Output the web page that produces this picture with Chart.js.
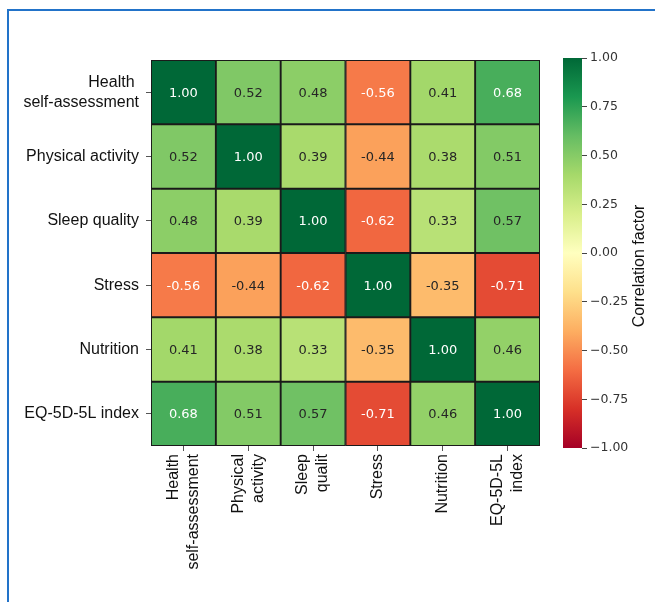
<!DOCTYPE html>
<html>
<head>
<meta charset="utf-8">
<script src="https://cdn.jsdelivr.net/npm/chart.js@4"></script>
<style>
  html, body { margin: 0; padding: 0; background: #fff; }
  #page { position: relative; width: 655px; height: 602px; overflow: hidden; }
  #frame { position: absolute; left: 7px; top: 9px; width: 660px; height: 610px;
           border-top: 2px solid #2273c9; border-left: 2px solid #2273c9; }
  #heat { position: absolute; left: 0; top: 0; }
  #cbar { position: absolute; left: 540px; top: 0; }
</style>
</head>
<body>
<div id="page">
  <div id="frame"></div>
  <canvas id="heat" width="560" height="602"></canvas>
  <canvas id="cbar" width="115" height="602"></canvas>
</div>
<script>
// rows top to bottom, columns left to right
const rowLabels = [['Health ', 'self-assessment'], 'Physical activity', 'Sleep quality', 'Stress', 'Nutrition', 'EQ-5D-5L index'];
const colLabels = [['Health', 'self-assessment'], ['Physical', 'activity'], ['Sleep', 'qualit'], 'Stress', 'Nutrition', ['EQ-5D-5L', 'index']];

const rowHealth    = [1.00, 0.52, 0.48, -0.56, 0.41, 0.68];
const rowPhysical  = [0.52, 1.00, 0.39, -0.44, 0.38, 0.51];
const rowSleep     = [0.48, 0.39, 1.00, -0.62, 0.33, 0.57];
const rowStress    = [-0.56, -0.44, -0.62, 1.00, -0.35, -0.71];
const rowNutrition = [0.41, 0.38, 0.33, -0.35, 1.00, 0.46];
const rowEQ        = [0.68, 0.51, 0.57, -0.71, 0.46, 1.00];
const values = [rowHealth, rowPhysical, rowSleep, rowStress, rowNutrition, rowEQ];

const cbarTicks = [-1, -0.75, -0.5, -0.25, 0, 0.25, 0.5, 0.75, 1];

// RdYlGn
const cmap = ['#a50026', '#d73027', '#f46d43', '#fdae61', '#fee08b', '#ffffbf',
              '#d9ef8b', '#a6d96a', '#66bd63', '#1a9850', '#006837'];

const labelFont = { family: '"Liberation Sans", Arial', size: 16, lineHeight: 1.25 };

function hexRgb(h) {
  return [parseInt(h.slice(1, 3), 16), parseInt(h.slice(3, 5), 16), parseInt(h.slice(5, 7), 16)];
}

function colorRgb(v) {
  let p = (v + 1) / 2 * 10;
  let i = Math.min(9, Math.floor(p));
  let f = p - i;
  let a = hexRgb(cmap[i]), b = hexRgb(cmap[i + 1]);
  return a.map((x, k) => Math.round(x + (b[k] - x) * f));
}

function colorOf(v) {
  let c = colorRgb(v);
  return 'rgb(' + c.join(',') + ')';
}

function textColorOf(v) {
  let c = colorRgb(v).map(x => {
    x = x / 255;
    return x <= 0.03928 ? x / 12.92 : Math.pow((x + 0.055) / 1.055, 2.4);
  });
  let lum = 0.2126 * c[0] + 0.7152 * c[1] + 0.0722 * c[2];
  return lum > 0.408 ? '#262626' : '#ffffff';
}

// one stacked dataset per row, bottom row first
const datasets = values.map((row, r) => ({
  label: rowLabels[r].toString(),
  data: row.map(() => 1),
  backgroundColor: row.map(colorOf),
  borderColor: '#1a1a1a',
  borderWidth: 1.3,
  borderSkipped: false,
  barPercentage: 1,
  categoryPercentage: 1
})).reverse();

const cellText = {
  id: 'cellText',
  beforeDraw(chart) {
    // center the two-line rotated x labels on their tick
    const s = chart.scales.x;
    const lh = labelFont.size * labelFont.lineHeight;
    s.getLabelItems(chart.chartArea).forEach(it => {
      if (Array.isArray(it.label) && !it._moved) {
        it.textOffset -= (it.label.length - 1) * lh / 2;
        it._moved = true;
      }
    });
  },
  afterDatasetsDraw(chart) {
    const ctx = chart.ctx;
    ctx.save();
    ctx.font = '13px "DejaVu Sans"';
    ctx.textAlign = 'center';
    ctx.textBaseline = 'middle';
    chart.data.datasets.forEach((ds, d) => {
      const r = values.length - 1 - d;
      chart.getDatasetMeta(d).data.forEach((bar, c) => {
        const v = values[r][c];
        const p = bar.getCenterPoint();
        ctx.fillStyle = textColorOf(v);
        ctx.fillText(v.toFixed(2), p.x, p.y + 1);
      });
    });
    ctx.restore();
  }
};

new Chart(document.getElementById('heat'), {
  type: 'bar',
  data: { labels: colLabels, datasets },
  options: {
    responsive: false,
    animation: false,
    layout: { padding: { top: 60, right: 20, left: 0, bottom: 0 } },
    plugins: { legend: { display: false }, tooltip: { enabled: false } },
    scales: {
      x: {
        stacked: true,
        grid: { offset: false, drawOnChartArea: false, tickLength: 5, color: '#555' },
        border: { display: false },
        ticks: {
          autoSkip: false, minRotation: 90, maxRotation: 90, padding: 3,
          color: '#111', font: labelFont
        },
        afterFit(scale) { scale.height = 156; }
      },
      y: {
        stacked: true,
        min: 0,
        max: 6,
        grid: { drawOnChartArea: false, tickLength: 5, color: '#555' },
        border: { display: false },
        afterBuildTicks(scale) {
          scale.ticks = [0.5, 1.5, 2.5, 3.5, 4.5, 5.5].map(v => ({ value: v }));
        },
        ticks: {
          padding: 7,
          color: '#111',
          font: labelFont,
          callback: v => rowLabels[5 - Math.floor(v)]
        },
        afterFit(scale) { scale.width = 151; }
      }
    }
  },
  plugins: [cellText]
});

const cbarTitle = {
  id: 'cbarTitle',
  afterDraw(chart) {
    const ctx = chart.ctx;
    ctx.save();
    ctx.translate(100, 266);
    ctx.rotate(-Math.PI / 2);
    ctx.font = '16px "Liberation Sans", Arial';
    ctx.fillStyle = '#111';
    ctx.textAlign = 'center';
    ctx.textBaseline = 'middle';
    ctx.fillText('Correlation factor', 0, 0);
    ctx.restore();
  }
};

new Chart(document.getElementById('cbar'), {
  type: 'bar',
  data: {
    labels: [''],
    datasets: [{
      data: [[cbarTicks[0], cbarTicks[cbarTicks.length - 1]]],
      backgroundColor(ctx) {
        const a = ctx.chart.chartArea;
        if (!a) return '#ccc';
        const g = ctx.chart.ctx.createLinearGradient(0, a.bottom, 0, a.top);
        cmap.forEach((c, i) => g.addColorStop(i / 10, c));
        return g;
      },
      borderWidth: 0,
      barPercentage: 1,
      categoryPercentage: 1
    }]
  },
  options: {
    responsive: false,
    animation: false,
    layout: { padding: { top: 58, left: 23, right: 0, bottom: 154 } },
    plugins: { legend: { display: false }, tooltip: { enabled: false } },
    scales: {
      x: { display: false },
      y: {
        position: 'right',
        min: -1,
        max: 1,
        afterBuildTicks(scale) { scale.ticks = cbarTicks.map(v => ({ value: v })); },
        grid: { drawOnChartArea: false, tickLength: 5, color: '#444' },
        border: { display: false },
        ticks: {
          padding: 3,
          color: '#333',
          font: { family: '"DejaVu Sans"', size: 12.5 },
          callback: v => v.toFixed(2).replace('-', '\u2212')
        },
        afterFit(scale) { scale.width = 73; }
      }
    }
  },
  plugins: [cbarTitle]
});
</script>
</body>
</html>
